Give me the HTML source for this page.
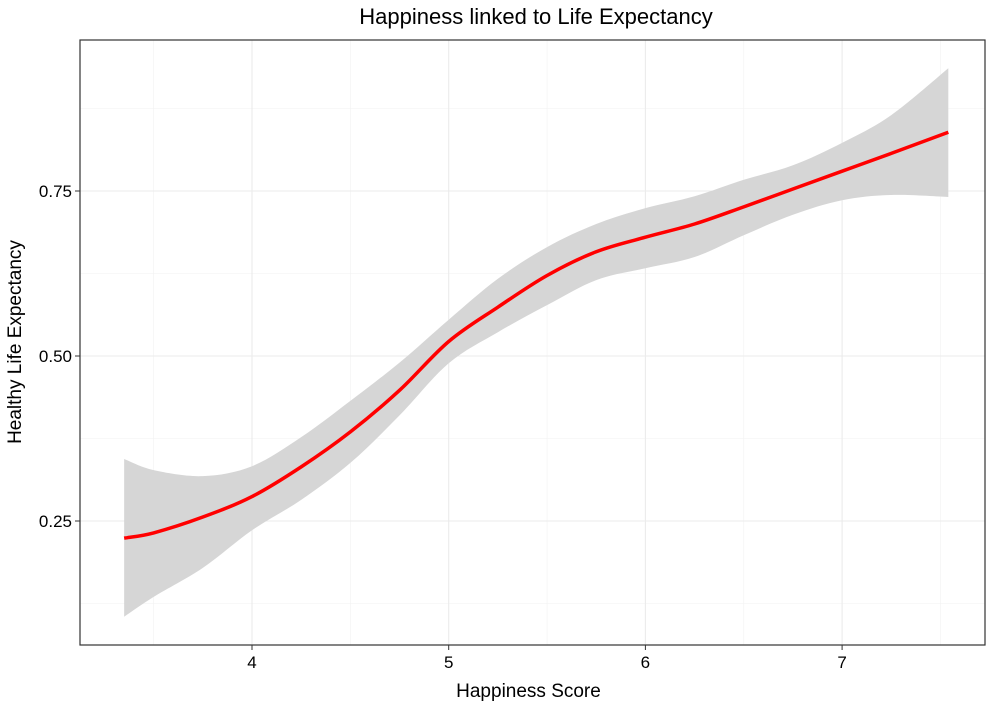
<!DOCTYPE html>
<html><head><meta charset="utf-8"><style>
body{margin:0;background:#fff;font-family:"Liberation Sans",sans-serif;}
svg{display:block}
</style></head><body>
<svg width="1000" height="710" id="chart"></svg>
<script>
const xs=[3.35,3.5,3.75,4,4.25,4.5,4.75,5,5.25,5.5,5.75,6,6.25,6.5,6.75,7,7.25,7.54];
const fit=[0.224,0.232,0.256,0.287,0.332,0.385,0.448,0.522,0.574,0.622,0.658,0.68,0.70,0.726,0.753,0.78,0.807,0.839];
const upper=[0.344,0.327,0.318,0.333,0.377,0.432,0.49,0.555,0.617,0.665,0.70,0.724,0.742,0.767,0.789,0.823,0.865,0.936];
const lower=[0.105,0.135,0.179,0.236,0.282,0.338,0.41,0.489,0.536,0.577,0.615,0.633,0.65,0.683,0.714,0.736,0.744,0.741];
const xTicks=[4,5,6,7];
const yTicks=[0.25,0.5,0.75];
const yTickLabels=["0.25","0.50","0.75"];
const xMinor=[3.5,4.5,5.5,6.5,7.5];
const yMinor=[0.125,0.375,0.625,0.875];

const L=80,R=985,T=40,B=645;
const sx=v=>252+(v-4)*196.7;
const sy=v=>521-(v-0.25)*660;
const NS="http://www.w3.org/2000/svg";
const svg=document.getElementById('chart');
function mk(t,a,p){const e=document.createElementNS(NS,t);for(const k in a)e.setAttribute(k,a[k]);(p||svg).appendChild(e);return e;}
function smooth(pts,start){
  let d=start?('M'+pts[0][0]+','+pts[0][1]):(' L'+pts[0][0]+','+pts[0][1]);
  for(let i=0;i<pts.length-1;i++){
    const p0=pts[Math.max(0,i-1)],p1=pts[i],p2=pts[i+1],p3=pts[Math.min(pts.length-1,i+2)];
    const c1=[p1[0]+(p2[0]-p0[0])/6,p1[1]+(p2[1]-p0[1])/6];
    const c2=[p2[0]-(p3[0]-p1[0])/6,p2[1]-(p3[1]-p1[1])/6];
    d+=' C'+c1[0]+','+c1[1]+' '+c2[0]+','+c2[1]+' '+p2[0]+','+p2[1];
  }
  return d;
}
xMinor.forEach(v=>{const e=mk('line',{x1:sx(v),x2:sx(v),y1:T,y2:B,stroke:'#f2f2f2','stroke-width':0.6});

});
yMinor.forEach(v=>{const e=mk('line',{x1:L,x2:R,y1:sy(v),y2:sy(v),stroke:'#f2f2f2','stroke-width':0.6});

});
xTicks.forEach(v=>{const e=mk('line',{x1:sx(v),x2:sx(v),y1:T,y2:B,stroke:'#ebebeb','stroke-width':1.1});

});
yTicks.forEach(v=>{const e=mk('line',{x1:L,x2:R,y1:sy(v),y2:sy(v),stroke:'#ebebeb','stroke-width':1.1});

});
const up=xs.map((x,i)=>[sx(x),sy(upper[i])]);
const lo=xs.map((x,i)=>[sx(x),sy(lower[i])]).reverse();
const band=mk('path',{d:smooth(up,true)+smooth(lo,false)+'Z',fill:'#d6d6d6'});


const line=mk('path',{d:smooth(xs.map((x,i)=>[sx(x),sy(fit[i])]),true),fill:'none',stroke:'#ff0000','stroke-width':3.5,'stroke-linejoin':'round'});


const fr=mk('rect',{x:L,y:T,width:R-L,height:B-T,fill:'none',stroke:'#333','stroke-width':1.2});


xTicks.forEach(v=>{mk('line',{x1:sx(v),x2:sx(v),y1:B,y2:B+5,stroke:'#333'});
const t=mk('text',{x:sx(v),y:B+23,'text-anchor':'middle','font-size':17,fill:'#000'});t.textContent=v;

});
yTicks.forEach((v,i)=>{mk('line',{x1:L-5,x2:L,y1:sy(v),y2:sy(v),stroke:'#333'});
const t=mk('text',{x:L-8,y:sy(v)+6,'text-anchor':'end','font-size':17,fill:'#000'});t.textContent=yTickLabels[i];

});
const xt=mk('text',{x:(L+R)/2-4,y:697,'text-anchor':'middle','font-size':19,fill:'#000'});xt.textContent='Happiness Score';


const yt=mk('text',{x:0,y:0,transform:'translate(21,342) rotate(-90)','text-anchor':'middle','font-size':19,fill:'#000'});yt.textContent='Healthy Life Expectancy';


const tt=mk('text',{x:536,y:24,'text-anchor':'middle','font-size':22,fill:'#000'});tt.textContent='Happiness linked to Life Expectancy';


</script>
</body></html>
